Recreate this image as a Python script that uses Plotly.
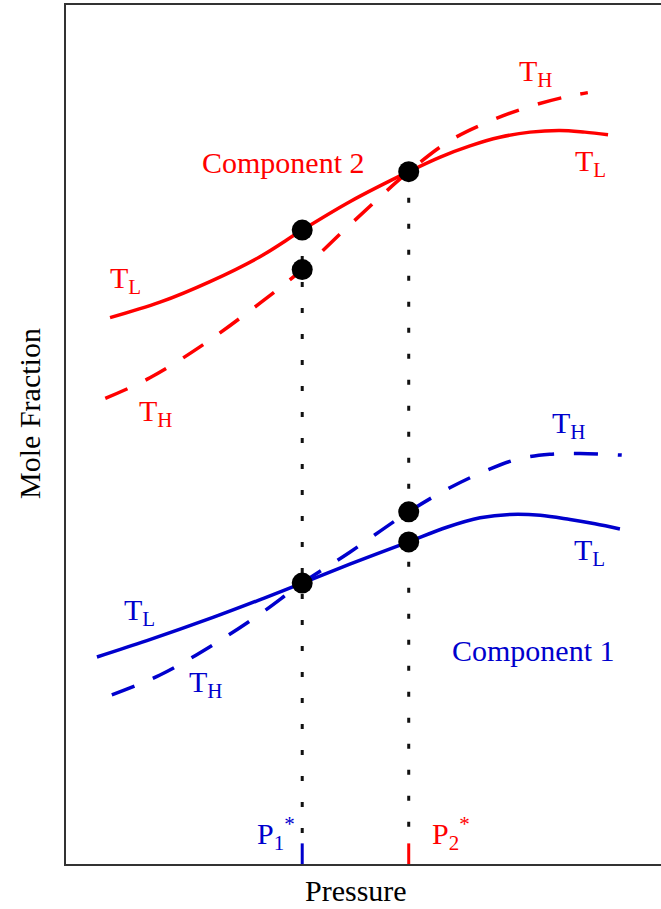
import plotly.graph_objects as go

# Pressure axis and mole-fraction axis both in arbitrary units (0-100)
p1_star = 39.7
p2_star = 57.6

# Component 2 (red) curves
c2_low_p = [7.4, 15.8, 24.2, 32.6, 39.7, 47.7, 57.6, 62.9, 67.9, 72.9, 78.0, 83.0, 87.2, 91.1]
c2_low_x = [63.6, 65.4, 67.8, 70.7, 73.8, 77.1, 80.6, 82.3, 83.6, 84.6, 85.2, 85.4, 85.2, 84.9]
c2_high_p = [6.6, 14.1, 22.5, 30.9, 39.7, 47.7, 57.6, 64.5, 71.3, 78.0, 83.9, 87.7]
c2_high_x = [54.2, 56.6, 60.2, 64.4, 69.2, 74.4, 80.6, 84.2, 86.5, 88.2, 89.3, 89.8]

# Component 1 (blue) curves
c1_low_p = [5.2, 13.6, 24.7, 33.1, 39.7, 47.7, 57.6, 64.0, 69.6, 74.6, 79.7, 84.7, 88.9, 93.1]
c1_low_x = [24.1, 26.0, 28.7, 30.9, 32.7, 34.9, 37.5, 39.2, 40.3, 40.7, 40.6, 40.1, 39.6, 39.0]
c1_high_p = [7.7, 15.8, 24.2, 32.6, 39.7, 47.7, 57.6, 64.5, 71.3, 76.3, 81.3, 86.4, 93.4]
c1_high_x = [19.7, 22.0, 25.3, 29.1, 32.7, 36.3, 41.0, 43.8, 46.0, 47.2, 47.7, 47.8, 47.6]

# Intersection points marked on the isotherms
point_p = [p1_star, p1_star, p2_star, p2_star, p2_star, p1_star]
point_x = [73.8, 69.2, 80.6, 41.0, 37.5, 32.7]

RED = "#FF0000"
BLUE = "#0000CD"
FONT = "Liberation Serif"
FS = 30

fig = go.Figure()

# vertical dotted guides from the top marker down to the pressure axis
for p, top in [(p1_star, 73.8), (p2_star, 80.6)]:
    fig.add_trace(go.Scatter(x=[p, p], y=[top, 3.2], mode="lines",
                             line=dict(color="#111111", width=3, dash="5px,21px"),
                             hoverinfo="skip"))

# short coloured ticks at P1* and P2*
for p, col in [(p1_star, BLUE), (p2_star, RED)]:
    fig.add_trace(go.Scatter(x=[p, p], y=[2.4, 0], mode="lines",
                             line=dict(color=col, width=3), hoverinfo="skip"))

fig.add_trace(go.Scatter(x=c2_high_p, y=c2_high_x, mode="lines", line_shape="spline",
                         line=dict(color=RED, width=3.5, dash="24px,20px")))
fig.add_trace(go.Scatter(x=c2_low_p, y=c2_low_x, mode="lines", line_shape="spline",
                         line=dict(color=RED, width=3.5)))
fig.add_trace(go.Scatter(x=c1_high_p, y=c1_high_x, mode="lines", line_shape="spline",
                         line=dict(color=BLUE, width=3.5, dash="24px,20px")))
fig.add_trace(go.Scatter(x=c1_low_p, y=c1_low_x, mode="lines", line_shape="spline",
                         line=dict(color=BLUE, width=3.5)))

fig.add_trace(go.Scatter(x=point_p, y=point_x, mode="markers",
                         marker=dict(color="black", size=21, line=dict(width=0))))

labels = [
    ("Component 2", 36.5, 81.7, RED, "center"),
    ("T<sub>L</sub>", 7.1, 68.0, RED, "left"),
    ("T<sub>H</sub>", 11.9, 52.5, RED, "left"),
    ("T<sub>H</sub>", 75.8, 92.1, RED, "left"),
    ("T<sub>L</sub>", 85.2, 81.6, RED, "left"),
    ("T<sub>H</sub>", 81.3, 51.1, BLUE, "left"),
    ("T<sub>L</sub>", 85.0, 36.3, BLUE, "left"),
    ("T<sub>L</sub>", 9.4, 29.3, BLUE, "left"),
    ("T<sub>H</sub>", 20.3, 21.0, BLUE, "left"),
    ("Component 1", 78.5, 24.9, BLUE, "center"),
    ("P<sub>1</sub><sup>*</sup>", 31.7, 3.6, BLUE, "left"),
    ("P<sub>2</sub><sup>*</sup>", 61.2, 3.6, RED, "left"),
]
for text, x, y, col, anchor in labels:
    fig.add_annotation(x=x, y=y, xref="x", yref="y", text=text, showarrow=False,
                       xanchor=anchor, yanchor="middle",
                       font=dict(family=FONT, size=FS, color=col))

fig.add_annotation(x=-0.0605, y=0.524, xref="paper", yref="paper", text="Mole Fraction",
                   textangle=-90, showarrow=False, xanchor="center", yanchor="middle",
                   font=dict(family=FONT, size=FS, color="black"))
fig.add_annotation(x=0.487, y=-0.0303, xref="paper", yref="paper", text="Pressure",
                   showarrow=False, xanchor="center", yanchor="middle",
                   font=dict(family=FONT, size=FS, color="black"))

fig.update_layout(
    width=661, height=909,
    margin=dict(l=66, r=0, t=5, b=45),
    paper_bgcolor="white", plot_bgcolor="white",
    showlegend=False,
    xaxis=dict(range=[0, 100], showgrid=False, zeroline=False, showticklabels=False,
               ticks="", showline=True, linecolor="#333333", linewidth=2, mirror=True),
    yaxis=dict(range=[0, 100], showgrid=False, zeroline=False, showticklabels=False,
               ticks="", showline=True, linecolor="#333333", linewidth=2, mirror=False),
)

fig.write_html("out.html")
